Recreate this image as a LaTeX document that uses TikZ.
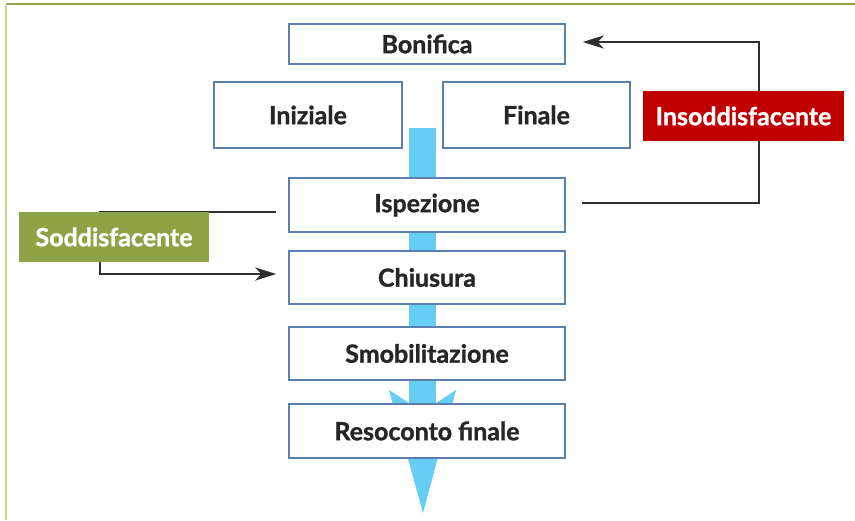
\documentclass[tikz,border=0pt]{standalone}
\usepackage{fontspec}
\setmainfont{Lato}[BoldFeatures={FakeBold=1.2}]
\usetikzlibrary{arrows.meta,calc}
\definecolor{boxblue}{HTML}{5B7FAE}
\definecolor{shaftblue}{HTML}{66CDF4}
\definecolor{badred}{HTML}{C00000}
\definecolor{goodgreen}{HTML}{8EA346}
\definecolor{frametop}{HTML}{8FA449}
\definecolor{frameleft}{HTML}{C5D3A0}
\definecolor{linedark}{HTML}{2F2F2F}
\tikzset{
  stepbox/.style={draw=boxblue,line width=1.4pt,fill=white,inner sep=0pt,
    font=\fontsize{25}{28}\selectfont\bfseries,text=black!85},
  tagbox/.style={inner sep=0pt,text=white,font=\fontsize{25}{28}\selectfont\bfseries},
  conn/.style={draw=linedark,line width=2.8pt},
  connarrow/.style={conn,-{Stealth[length=21pt,width=13pt,inset=6pt]}},
}
\begin{document}
\begin{tikzpicture}[x=1pt,y=-1pt]
\useasboundingbox (0,0) rectangle (855,520);
% frame
\draw[frametop,line width=1.6pt] (6,4) -- (855,4);
\draw[frameleft,line width=2.2pt] (6,4) -- (6,520);
% blue flow arrow
\fill[shaftblue] (409,128) rectangle (436,403);
\fill[shaftblue] (409,403) -- (389,390) -- (423,513) -- (456,390) -- (436,403) -- cycle;
% boxes
\node[stepbox,minimum width=276pt,minimum height=40pt] (bon) at (427,44) {Bonifica};
\node[stepbox,minimum width=188pt,minimum height=66pt] (ini) at (308,115) {Iniziale};
\node[stepbox,minimum width=187pt,minimum height=66pt] (fin) at (536.5,115) {Finale};
\node[stepbox,minimum width=276pt,minimum height=54pt] (isp) at (427,205) {Ispezione};
\node[stepbox,minimum width=276pt,minimum height=53pt] (chi) at (427,277.5) {Chiusura};
\node[stepbox,minimum width=276pt,minimum height=53pt] (smo) at (427,353.5) {Smobilitazione};
\node[stepbox,minimum width=276pt,minimum height=54pt] (res) at (427,431) {Resoconto finale};
% connectors
\coordinate (rStart) at ([xshift=16pt,yshift=2pt]isp.east);
\coordinate (rEnd) at ([xshift=17pt,yshift=2pt]bon.east);
\coordinate (rcorner) at (759,0);
\coordinate (sStart) at ([xshift=-12pt,yshift=-7pt]isp.west);
\coordinate (sEnd) at ([xshift=-12pt,yshift=3.5pt]chi.west);
\coordinate (lcorner) at (100,0);
\draw[connarrow] (rStart) -| (rcorner |- rEnd) -- (rEnd);
\draw[connarrow] (sStart) -| (lcorner |- sEnd) -- (sEnd);
% tags
\node[tagbox,fill=badred,minimum width=201pt,minimum height=50pt] (bad) at (743.5,116) {Insoddisfacente};
\node[tagbox,fill=goodgreen,minimum width=190pt,minimum height=50pt] (good) at (114,237) {Soddisfacente};
\end{tikzpicture}
\end{document}
